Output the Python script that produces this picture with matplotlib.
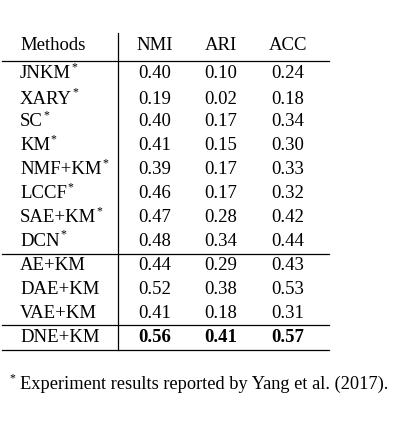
import matplotlib
matplotlib.use("Agg")
import matplotlib.pyplot as plt

methods = ["JNKM", "XARY", "SC", "KM", "NMF+KM", "LCCF", "SAE+KM", "DCN", "AE+KM", "DAE+KM", "VAE+KM", "DNE+KM"]
starred = [True]*8 + [False]*4
nmi = [0.40, 0.19, 0.40, 0.41, 0.39, 0.46, 0.47, 0.48, 0.44, 0.52, 0.41, 0.56]
ari = [0.10, 0.02, 0.17, 0.15, 0.17, 0.17, 0.28, 0.34, 0.29, 0.38, 0.18, 0.41]
acc = [0.24, 0.18, 0.34, 0.30, 0.33, 0.32, 0.42, 0.44, 0.43, 0.53, 0.31, 0.57]
headers = ["Methods", "NMI", "ARI", "ACC"]
footnote = "Experiment results reported by Yang et al. (2017)."

W, H = 418, 424
fig = plt.figure(figsize=(W/100, H/100), dpi=100)
ax = fig.add_axes([0, 0, 1, 1])
ax.set_xlim(0, W); ax.set_ylim(H, 0); ax.axis("off")
fam = "Liberation Serif"
fs = 13.5
cols = [155, 221, 288]
hy = 46
ys = [74, 99, 122, 146, 170, 194, 218, 241, 266, 290, 313, 337]

ax.text(20, hy, headers[0], ha="left", va="center", family=fam, fontsize=fs)
for c, h in zip(cols, headers[1:]):
    ax.text(c, hy, h, ha="center", va="center", family=fam, fontsize=fs)
fig.canvas.draw()
for i, m in enumerate(methods):
    y = ys[i]
    t = ax.text(20, y, m, ha="left", va="center", family=fam, fontsize=fs)
    if starred[i]:
        fig.canvas.draw()
        bb = t.get_window_extent()
        ax.text(bb.x1 + 0.5, y - 7, "*", ha="left", va="center", family=fam, fontsize=8.5)
    bold = (m == "DNE+KM")
    for c, vals in zip(cols, [nmi, ari, acc]):
        ax.text(c, y, f"{vals[i]:.2f}", ha="center", va="center", family=fam,
                fontsize=fs, fontweight="bold" if bold else "normal")
for ly in [61, 254, 325, 350]:
    ax.plot([2, 329], [ly, ly], color="black", lw=0.9)
ax.plot([118, 118], [33, 350], color="black", lw=0.9)
ax.text(9, 378, "*", ha="left", va="center", family=fam, fontsize=8.5)
ax.text(20, 384, footnote, ha="left", va="center", family=fam, fontsize=13.2)
fig.savefig("out.png", dpi=100)
